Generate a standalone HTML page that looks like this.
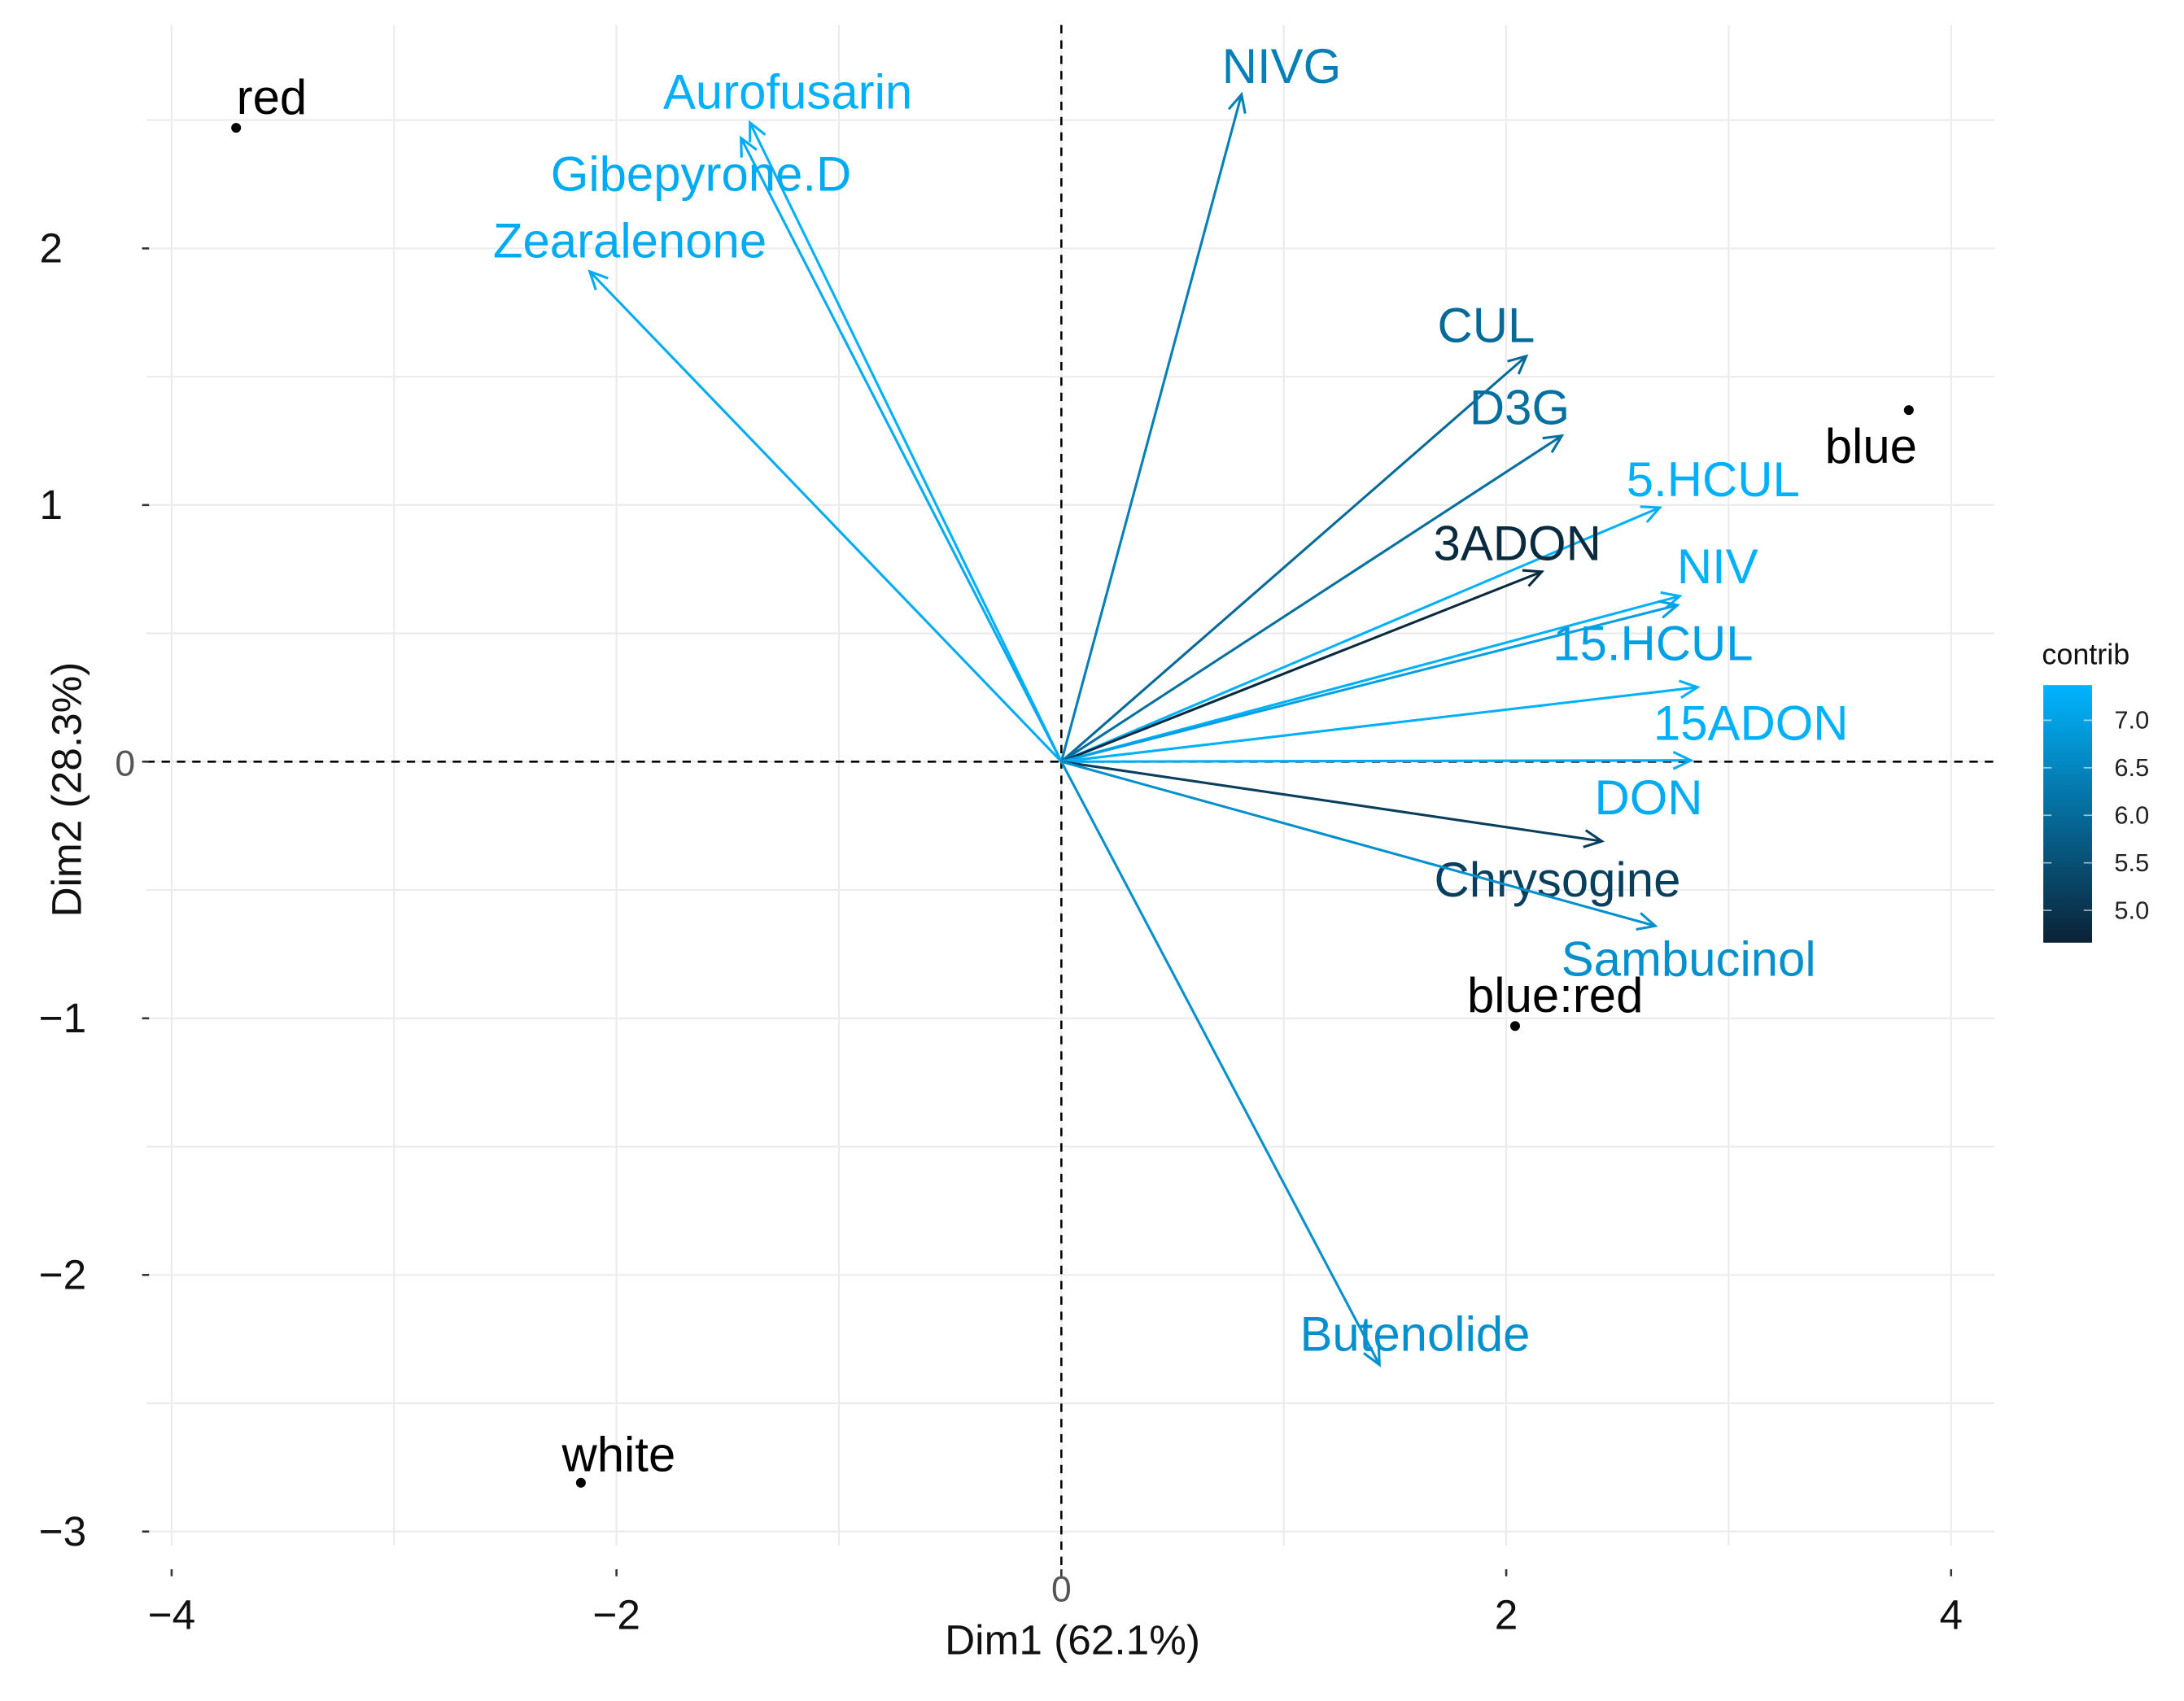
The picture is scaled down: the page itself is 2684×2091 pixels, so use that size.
<!DOCTYPE html>
<html><head><meta charset="utf-8"><style>html,body{margin:0;padding:0;background:#fff}svg{display:block}</style></head>
<body>
<svg id="chart" xmlns="http://www.w3.org/2000/svg" width="2684" height="2091" viewBox="0 0 1568 1221.6" font-family="'Liberation Sans', sans-serif">
<rect width="1568" height="1221.6" fill="#fff"/>
<g id="grid"></g>
<g id="axes"></g>
<g id="arrows"></g>
<g id="points"></g>
<g id="legend"></g>
</svg>
<script>
const varNames = ["Aurofusarin","Gibepyrone.D","Zearalenone","NIVG","CUL","D3G","5.HCUL","3ADON","NIV","15.HCUL","15ADON","DON","Chrysogine","Sambucinol","Butenolide"];
const varX = [-1.40,-1.44,-2.12,0.81,2.09,2.25,2.69,2.16,2.78,2.77,2.86,2.83,2.43,2.67,1.43];
const varY = [2.49,2.43,1.91,2.60,1.58,1.27,0.99,0.74,0.645,0.61,0.29,0.005,-0.31,-0.64,-2.35];
const varContrib = [7.3,7.2,7.2,6.4,6.0,6.1,7.3,4.8,7.3,7.0,7.3,7.2,5.2,6.7,6.7];
const labelX = [-1.23,-1.62,-1.94,0.99,1.91,2.06,2.93,2.05,2.95,2.66,3.10,2.64,2.23,2.82,1.59];
const labelY = [2.61,2.29,2.03,2.71,1.70,1.38,1.10,0.85,0.76,0.46,0.15,-0.14,-0.46,-0.77,-2.23];
const indNames = ["red","blue","blue:red","white"];
const indX = [-3.71,3.81,2.04,-2.16];
const indY = [2.47,1.37,-1.03,-2.81];
const indLabelX = [-3.55,3.64,2.22,-1.99];
const indLabelY = [2.59,1.23,-0.91,-2.70];
const xTicks = [-4,-2,0,2,4];
const yTicks = [-3,-2,-1,0,1,2];
const legendTicks = [5.0,5.5,6.0,6.5,7.0];

const NS="http://www.w3.org/2000/svg";
const X0=762, XS=159.7, Y0=547, YS=184.3;
const sx=v=>X0+v*XS, sy=v=>Y0-v*YS;
const PL=105, PR=1432, PT=18, PB=1110;
const cMin=4.66, cMax=7.37;
function color(c){
  const t=Math.max(0,Math.min(1,(c-cMin)/(cMax-cMin)));
  const a=[11,34,53], b=[0,180,255];
  return "rgb("+a.map((v,i)=>Math.round(v+(b[i]-v)*t)).join(",")+")";
}
function mk(tag,attrs,parent){const e=document.createElementNS(NS,tag);for(const k in attrs)e.setAttribute(k,attrs[k]);parent.appendChild(e);return e;}
const grid=document.getElementById('grid'),axes=document.getElementById('axes'),arrows=document.getElementById('arrows'),points=document.getElementById('points'),legend=document.getElementById('legend');
for(let v=-4;v<=4;v+=1){const l=mk('line',{x1:sx(v),x2:sx(v),y1:PT,y2:PB,stroke:'#ebebeb','stroke-width':1.2},grid);

}
for(let v=-3;v<=2.5;v+=0.5){const l=mk('line',{x1:PL,x2:PR,y1:sy(v),y2:sy(v),stroke:'#ebebeb','stroke-width':1.2},grid);

}
mk('line',{x1:PL,x2:PR,y1:sy(0),y2:sy(0),stroke:'#000','stroke-width':1.5,'stroke-dasharray':'6,5'},axes);
mk('line',{x1:sx(0),x2:sx(0),y1:PT,y2:PB+20,stroke:'#000','stroke-width':1.5,'stroke-dasharray':'6,5'},axes);
xTicks.forEach(v=>{
  mk('line',{x1:sx(v),x2:sx(v),y1:1127,y2:1132,stroke:'#333','stroke-width':1.5},axes);
  const t=mk('text',{x:sx(v),y:v===0?1150:1170,'font-size':v===0?26:30,'text-anchor':'middle',fill:v===0?'#555':'#111'},axes);
  t.textContent=v<0?'\u2212'+(-v):String(v);
  
  
});
yTicks.forEach(v=>{
  mk('line',{x1:102,x2:107,y1:sy(v),y2:sy(v),stroke:'#333','stroke-width':1.5},axes);
  const t=mk('text',{x:v===0?97:(v<0?62:45),y:sy(v)+10,'font-size':v===0?26:30,'text-anchor':'end',fill:v===0?'#555':'#111'},axes);
  t.textContent=v<0?'\u2212'+(-v):String(v);
  
  
});
let t=mk('text',{x:770,y:1188,'font-size':30,'text-anchor':'middle',fill:'#111'},axes);t.textContent='Dim1 (62.1%)';


t=mk('text',{x:0,y:0,'font-size':30,'text-anchor':'middle',fill:'#111',transform:'translate(58,567) rotate(-90)'},axes);t.textContent='Dim2 (28.3%)';



varNames.forEach((n,i)=>{
  const c=color(varContrib[i]);
  const g=mk('g',{},arrows);
  
  
  const x1=sx(0),y1=sy(0),x2=sx(varX[i]),y2=sy(varY[i]);
  mk('line',{x1,y1,x2,y2,stroke:c,'stroke-width':1.8},g);
  const ang=Math.atan2(y2-y1,x2-x1),L=14,a=0.45;
  mk('polyline',{points:`${x2-L*Math.cos(ang-a)},${y2-L*Math.sin(ang-a)} ${x2},${y2} ${x2-L*Math.cos(ang+a)},${y2-L*Math.sin(ang+a)}`,fill:'none',stroke:c,'stroke-width':1.8},g);
  const tx=mk('text',{x:sx(labelX[i]),y:sy(labelY[i])+12,'font-size':35,'text-anchor':'middle',fill:c},g);
  tx.textContent=n;
});
indNames.forEach((n,i)=>{
  const g=mk('g',{},points);
  
  
  mk('circle',{cx:sx(indX[i]),cy:sy(indY[i]),r:3.5,fill:'#000'},g);
  const tx=mk('text',{x:sx(indLabelX[i]),y:sy(indLabelY[i])+12,'font-size':35,'text-anchor':'middle',fill:'#000'},g);
  tx.textContent=n;
});
const defs=mk('defs',{},legend);
const lg=mk('linearGradient',{id:'cg',x1:0,y1:1,x2:0,y2:0},defs);
[0,0.25,0.5,0.75,1].forEach(f=>mk('stop',{offset:f,'stop-color':color(cMin+f*(cMax-cMin))},lg));
const LB=677,LT=492,lsy=v=>LB-(v-cMin)/(cMax-cMin)*(LB-LT);
mk('rect',{x:1467,y:LT,width:35,height:LB-LT,fill:'url(#cg)'},legend);
t=mk('text',{x:1466,y:477,'font-size':21,fill:'#111'},legend);t.textContent='contrib';


legendTicks.forEach(v=>{
  mk('line',{x1:1467,x2:1473,y1:lsy(v),y2:lsy(v),stroke:'#fff','stroke-opacity':0.6,'stroke-width':1},legend);
  mk('line',{x1:1496,x2:1502,y1:lsy(v),y2:lsy(v),stroke:'#fff','stroke-opacity':0.6,'stroke-width':1},legend);
  const tt=mk('text',{x:1518,y:lsy(v)+6,'font-size':18,fill:'#222'},legend);
  tt.textContent=v.toFixed(1);
  
  
});
</script>
</body></html>
